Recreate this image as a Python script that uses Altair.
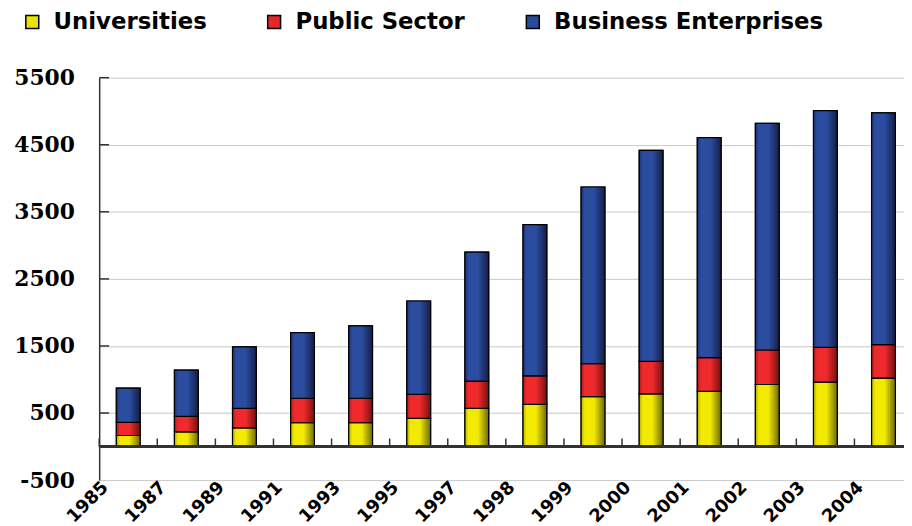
import altair as alt
import pandas as pd

# ---- data ----
years = ['1985', '1987', '1989', '1991', '1993', '1995', '1997',
         '1998', '1999', '2000', '2001', '2002', '2003', '2004']
universities = [165, 220, 280, 355, 355, 420, 570, 630, 745, 785, 825, 925, 960, 1020]
public_sector = [195, 230, 290, 365, 365, 360, 405, 425, 490, 485, 500, 515, 520, 500]
business = [510, 690, 915, 980, 1080, 1390, 1925, 2255, 2635, 3145, 3280, 3380, 3530, 3455]
series = ['Universities', 'Public Sector', 'Business Enterprises']
y_tick_values = [-500, 500, 1500, 2500, 3500, 4500, 5500]
inner_tick_values = [500, 1500, 2500, 3500, 4500, 5500]

legend_colors = ['#ece400', '#e6262a', '#2a4a9c']

# ---- stacked table built from the arrays ----
rows = []
for i, yr in enumerate(years):
    start = 0
    for s, vals in zip(series, [universities, public_sector, business]):
        v = vals[i]
        rows.append({'year': yr, 'series': s, 'start': start, 'end': start + v, 'value': v})
        start += v
df = pd.DataFrame(rows)
ticks_df = pd.DataFrame({'v': inner_tick_values})

STEP = 820.6 / len(years)

x_scale = alt.Scale(range=[0, 820.6], paddingInner=0, paddingOuter=0)
x_axis = alt.Axis(title=None, labelAngle=-45, labelFont='DejaVu Sans', labelFontWeight='bold',
                  labelFontSize=18, labelColor='black', domain=False, ticks=False, tickSize=0,
                  grid=False, labelPadding=-2, labelOffset=-STEP / 2,
                  labelAlign='right', labelBaseline='top')
y_scale = alt.Scale(domain=[-500, 5500], nice=False, zero=False)
y_axis = alt.Axis(title=None, values=y_tick_values, labelExpr="'' + datum.value",
                  domain=True, domainColor='#333333',
                  domainWidth=1.5, ticks=False, tickSize=0, grid=True, gridColor='#c8c8c8',
                  gridWidth=1, labelFont='DejaVu Serif', labelFontWeight='bold',
                  labelFontSize=22, labelColor='black', labelPadding=25)

x_enc = alt.X('year:N', sort=years, scale=x_scale, axis=x_axis)
y_enc = alt.Y('start:Q', scale=y_scale, axis=y_axis)

base = alt.Chart(df).mark_bar(width=24, stroke='black', strokeWidth=1.2).encode(
    x=x_enc,
    y=y_enc,
    y2='end:Q',
    color=alt.Color('series:N', scale=alt.Scale(domain=series, range=legend_colors),
                    legend=alt.Legend(title=None, orient='none', legendX=-79, legendY=-68,
                                      direction='horizontal', symbolType='square',
                                      symbolSize=170, symbolStrokeColor='black',
                                      symbolStrokeWidth=1.5, symbolOpacity=1,
                                      labelFont='DejaVu Sans', labelFontSize=23,
                                      labelFontWeight='bold', labelColor='black',
                                      labelLimit=0,
                                      labelOffset=10, columnPadding=56, padding=0))
)

gradients = {
    'Universities': ['#b5ad00', '#f2ea00', '#f2ea00', '#6e6a00'],
    'Public Sector': ['#b01a1a', '#ee2a2c', '#ee2a2c', '#781010'],
    'Business Enterprises': ['#1c3272', '#2b4c9f', '#2b4c9f', '#141e48'],
}
overlays = []
for s in series:
    c = gradients[s]
    grad = alt.LinearGradient(gradient='linear', x1=0, x2=1, y1=0, y2=0, stops=[
        alt.GradientStop(color=c[0], offset=0),
        alt.GradientStop(color=c[1], offset=0.15),
        alt.GradientStop(color=c[2], offset=0.55),
        alt.GradientStop(color=c[3], offset=1),
    ])
    overlays.append(
        alt.Chart(df).transform_filter(alt.datum.series == s)
        .mark_bar(width=24, fill=grad, stroke='black', strokeWidth=1.2)
        .encode(x=x_enc, y=y_enc, y2='end:Q')
    )

zero_line = alt.Chart(df).mark_rule(color='#333333', strokeWidth=2).encode(
    y=alt.datum(0)
)

x_ticks = alt.Chart(df).transform_filter(alt.datum.series == 'Universities').mark_rule(
    color='#333333', strokeWidth=1.5, xOffset=-STEP / 2).encode(
    x=x_enc,
    y=alt.datum(0),
    y2=alt.datum(120),
)

y_ticks = alt.Chart(ticks_df).mark_rule(color='#333333', strokeWidth=1.5).encode(
    x=alt.value(0),
    x2=alt.value(10),
    y=alt.Y('v:Q', scale=y_scale, axis=y_axis),
)

chart = alt.layer(base, *overlays, zero_line, x_ticks, y_ticks).properties(
    width=812,
    height=406,
    autosize=alt.AutoSizeParams(type='none'),
    padding={'left': 92, 'top': 68, 'right': 0, 'bottom': 44},
    background='white',
).configure_view(stroke=None)

chart.save("out.html", embed_options={"renderer": "svg", "actions": False})
